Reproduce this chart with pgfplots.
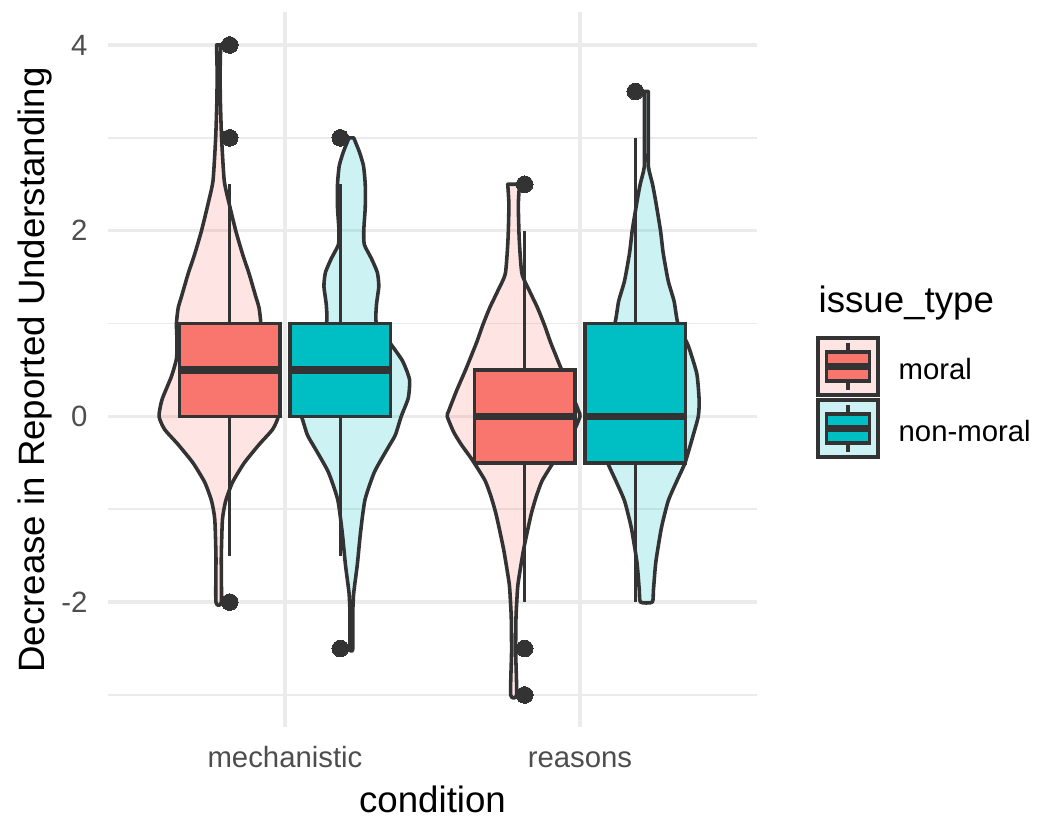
\documentclass[border=0pt]{standalone}
\usepackage{pgfplots}
\usepackage{pgfplotstable}
\pgfplotsset{compat=1.18}
\usepgfplotslibrary{statistics}
\usepackage{fontspec}
\setmainfont{Liberation Sans}
\definecolor{cmoral}{HTML}{F8766D}
\definecolor{cnon}{HTML}{00BFC4}
\definecolor{cdark}{HTML}{333333}
\definecolor{cgrid}{HTML}{EBEBEB}
\definecolor{ctick}{HTML}{4D4D4D}

% violin outlines: y, side (-1 left, +1 right), half-width in x units
\pgfplotstableread{
y s hw
4.0 -1 0.007
3.7 -1 0.005
3.4 -1 0.006
3.0 -1 0.010
2.54 -1 0.019
2.3 -1 0.035
2.0 -1 0.058
1.75 -1 0.081
1.53 -1 0.104
1.3 -1 0.125
1.17 -1 0.137
1.0 -1 0.143
0.8 -1 0.141
0.62 -1 0.143
0.43 -1 0.160
0.18 -1 0.192
0.0 -1 0.202
-0.14 -1 0.183
-0.3 -1 0.138
-0.5 -1 0.087
-0.71 -1 0.047
-0.91 -1 0.024
-1.11 -1 0.013
-1.52 -1 0.009
-2.0 -1 0.009
-2.0 1 0.009
-1.52 1 0.009
-1.11 1 0.013
-0.91 1 0.024
-0.71 1 0.047
-0.5 1 0.087
-0.3 1 0.138
-0.14 1 0.183
0.0 1 0.202
0.18 1 0.192
0.43 1 0.160
0.62 1 0.143
0.8 1 0.141
1.0 1 0.143
1.17 1 0.137
1.3 1 0.125
1.53 1 0.104
1.75 1 0.081
2.0 1 0.058
2.3 1 0.035
2.54 1 0.019
3.0 1 0.010
3.4 1 0.006
3.7 1 0.005
4.0 1 0.007
}\violinA
\pgfplotstableread{
y s hw
3.0 -1 0.008
2.85 -1 0.027
2.7 -1 0.041
2.5 -1 0.047
2.25 -1 0.047
2.0 -1 0.042
1.85 -1 0.044
1.7 -1 0.068
1.55 -1 0.088
1.4 -1 0.093
1.2 -1 0.085
1.0 -1 0.085
0.8 -1 0.129
0.6 -1 0.173
0.4 -1 0.197
0.2 -1 0.193
0.0 -1 0.169
-0.2 -1 0.149
-0.35 -1 0.122
-0.6 -1 0.078
-0.9 -1 0.046
-1.25 -1 0.031
-1.6 -1 0.020
-1.9 -1 0.008
-2.1 -1 0.005
-2.5 -1 0.005
-2.5 1 0.005
-2.1 1 0.005
-1.9 1 0.008
-1.6 1 0.020
-1.25 1 0.031
-0.9 1 0.046
-0.6 1 0.078
-0.35 1 0.122
-0.2 1 0.149
0.0 1 0.169
0.2 1 0.193
0.4 1 0.197
0.6 1 0.173
0.8 1 0.129
1.0 1 0.085
1.2 1 0.085
1.4 1 0.093
1.55 1 0.088
1.7 1 0.068
1.85 1 0.044
2.0 1 0.042
2.25 1 0.047
2.5 1 0.047
2.7 1 0.041
2.85 1 0.027
3.0 1 0.008
}\violinB
\pgfplotstableread{
y s hw
2.5 -1 0.020
2.28 -1 0.016
1.91 -1 0.019
1.54 -1 0.028
1.35 -1 0.054
1.17 -1 0.081
0.98 -1 0.105
0.8 -1 0.125
0.61 -1 0.149
0.5 -1 0.163
0.28 -1 0.193
0.06 -1 0.220
0.0 -1 0.225
-0.17 -1 0.203
-0.31 -1 0.176
-0.46 -1 0.142
-0.69 -1 0.097
-0.87 -1 0.076
-1.06 -1 0.059
-1.43 -1 0.034
-1.8 -1 0.015
-1.98 -1 0.011
-2.17 -1 0.008
-2.54 -1 0.007
-3.0 -1 0.010
-3.0 1 0.010
-2.54 1 0.007
-2.17 1 0.008
-1.98 1 0.011
-1.8 1 0.015
-1.43 1 0.034
-1.06 1 0.059
-0.87 1 0.076
-0.69 1 0.097
-0.46 1 0.142
-0.31 1 0.176
-0.17 1 0.203
0.0 1 0.225
0.06 1 0.220
0.28 1 0.193
0.5 1 0.163
0.61 1 0.149
0.8 1 0.125
0.98 1 0.105
1.17 1 0.081
1.35 1 0.054
1.54 1 0.028
1.91 1 0.019
2.28 1 0.016
2.5 1 0.020
}\violinC
\pgfplotstableread{
y s hw
3.5 -1 0.007
3.0 -1 0.007
2.69 -1 0.007
2.5 -1 0.021
2.31 -1 0.032
2.0 -1 0.048
1.76 -1 0.057
1.46 -1 0.074
1.24 -1 0.094
1.0 -1 0.107
0.76 -1 0.142
0.46 -1 0.171
0.17 -1 0.179
0.0 -1 0.176
-0.2 -1 0.159
-0.5 -1 0.131
-0.69 -1 0.104
-0.91 -1 0.074
-1.2 -1 0.051
-1.57 -1 0.032
-1.87 -1 0.024
-2.0 -1 0.020
-2.0 1 0.020
-1.87 1 0.024
-1.57 1 0.032
-1.2 1 0.051
-0.91 1 0.074
-0.69 1 0.104
-0.5 1 0.131
-0.2 1 0.159
0.0 1 0.176
0.17 1 0.179
0.46 1 0.171
0.76 1 0.142
1.0 1 0.107
1.24 1 0.094
1.46 1 0.074
1.76 1 0.057
2.0 1 0.048
2.31 1 0.032
2.5 1 0.021
2.69 1 0.007
3.0 1 0.007
3.5 1 0.007
}\violinD

\begin{document}
\begin{tikzpicture}
\useasboundingbox (0,0) rectangle (314.1pt,245.1pt);
\begin{axis}[
  at={(32.4pt,26.85pt)}, anchor=south west,
  width=194.7pt, height=214.5pt, scale only axis,
  xmin=0.4, xmax=2.6, ymin=-3.35, ymax=4.35,
  axis line style={draw=none},
  major tick length=0pt, minor tick length=0pt,
  xtick={1,2}, xticklabels={mechanistic,reasons},
  ytick={-2,0,2,4}, yticklabels={-2,0,2,4},
  minor ytick={-3,-1,1,3},
  xmajorgrids, ymajorgrids, yminorgrids,
  major grid style={cgrid, line width=1.07pt},
  minor grid style={cgrid, line width=0.53pt},
  yticklabel style={font=\fontsize{8.8}{10}\selectfont, text=ctick, anchor=east, inner sep=0pt, xshift=-6pt},
  xticklabel style={font=\fontsize{8.8}{10}\selectfont, text=ctick, anchor=base, inner sep=0pt, yshift=-12.15pt},
  boxplot/draw direction=y,
  boxplot/every median/.style={line width=2.13pt},
]
% violins
\addplot[fill=cmoral, fill opacity=0.2, draw=cdark, line width=1.07pt, line join=round, smooth, tension=0.35]
  table[x expr=0.775+\thisrow{s}*\thisrow{hw}, y=y] {\violinA} -- cycle;
\addplot[fill=cnon, fill opacity=0.2, draw=cdark, line width=1.07pt, line join=round, smooth, tension=0.35]
  table[x expr=1.225+\thisrow{s}*\thisrow{hw}, y=y] {\violinB} -- cycle;
\addplot[fill=cmoral, fill opacity=0.2, draw=cdark, line width=1.07pt, line join=round, smooth, tension=0.35]
  table[x expr=1.775+\thisrow{s}*\thisrow{hw}, y=y] {\violinC} -- cycle;
\addplot[fill=cnon, fill opacity=0.2, draw=cdark, line width=1.07pt, line join=round, smooth, tension=0.35]
  table[x expr=2.225+\thisrow{s}*\thisrow{hw}, y=y] {\violinD} -- cycle;
% boxplots
\addplot[boxplot prepared={draw position=0.8125, box extend=0.34, whisker extend=0,
  median=0.5, lower quartile=0, upper quartile=1, lower whisker=-1.5, upper whisker=2.5},
  fill=cmoral, draw=cdark, line width=1.07pt, mark=*, mark size=2.5pt,
  mark options={fill=cdark, draw=cdark, line width=0pt}]
  table[row sep=\\, y index=0] {4\\ 3\\ -2\\};
\addplot[boxplot prepared={draw position=1.1875, box extend=0.34, whisker extend=0,
  median=0.5, lower quartile=0, upper quartile=1, lower whisker=-1.5, upper whisker=2.5},
  fill=cnon, draw=cdark, line width=1.07pt, mark=*, mark size=2.5pt,
  mark options={fill=cdark, draw=cdark, line width=0pt}]
  table[row sep=\\, y index=0] {3\\ -2.5\\};
\addplot[boxplot prepared={draw position=1.8125, box extend=0.34, whisker extend=0,
  median=0, lower quartile=-0.5, upper quartile=0.5, lower whisker=-2, upper whisker=2},
  fill=cmoral, draw=cdark, line width=1.07pt, mark=*, mark size=2.5pt,
  mark options={fill=cdark, draw=cdark, line width=0pt}]
  table[row sep=\\, y index=0] {2.5\\ -2.5\\ -3\\};
\addplot[boxplot prepared={draw position=2.1875, box extend=0.34, whisker extend=0,
  median=0, lower quartile=-0.5, upper quartile=1, lower whisker=-2, upper whisker=3},
  fill=cnon, draw=cdark, line width=1.07pt, mark=*, mark size=2.5pt,
  mark options={fill=cdark, draw=cdark, line width=0pt}]
  table[row sep=\\, y index=0] {3.5\\};
\end{axis}
\begin{scope}[x=0.3pt, y=0.3pt]
% axis titles
\node[anchor=base, inner sep=0pt, font=\fontsize{11}{13}\selectfont] at (432.5, 4) {condition};
\node[anchor=base, inner sep=0pt, rotate=90, font=\fontsize{11}{13}\selectfont] at (44, 447) {Decrease in Reported Understanding};
% legend
\node[anchor=base west, inner sep=0pt, font=\fontsize{11}{13}\selectfont] at (818, 504) {issue\_type};
% moral key
\fill[cmoral, opacity=0.2] (818,422) rectangle (878,479);
\draw[cdark, line width=1.07pt] (818,422) rectangle (878,479);
\draw[cdark, line width=1.07pt] (848,474) -- (848,464.75) (848,436.25) -- (848,427);
\filldraw[fill=cmoral, draw=cdark, line width=1.07pt] (826.5,436.25) rectangle (869.5,464.75);
\draw[cdark, line width=2.13pt] (826.5,450.5) -- (869.5,450.5);
\node[anchor=base west, inner sep=0pt, font=\fontsize{8.8}{10}\selectfont] at (898, 437) {moral};
% non-moral key
\fill[cnon, opacity=0.2] (818,360) rectangle (878,417);
\draw[cdark, line width=1.07pt] (818,360) rectangle (878,417);
\draw[cdark, line width=1.07pt] (848,412) -- (848,402.75) (848,374.25) -- (848,365);
\filldraw[fill=cnon, draw=cdark, line width=1.07pt] (826.5,374.25) rectangle (869.5,402.75);
\draw[cdark, line width=2.13pt] (826.5,388.5) -- (869.5,388.5);
\node[anchor=base west, inner sep=0pt, font=\fontsize{8.8}{10}\selectfont] at (898, 375) {non-moral};
\end{scope}
\end{tikzpicture}
\end{document}
